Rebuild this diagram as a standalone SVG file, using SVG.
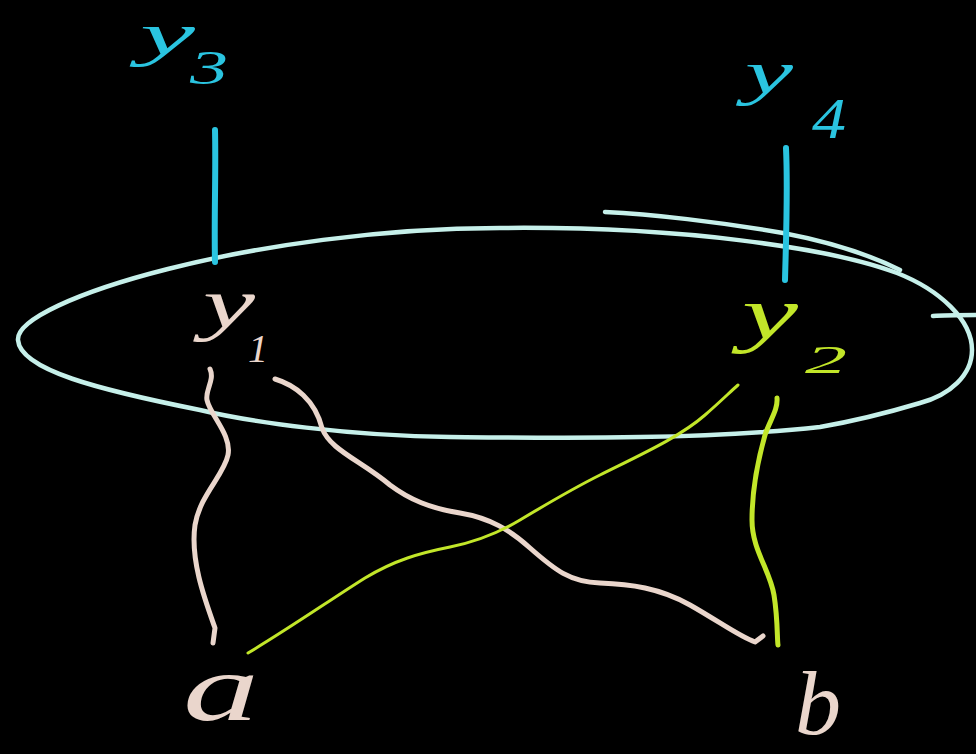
<svg xmlns="http://www.w3.org/2000/svg" width="976" height="754" viewBox="0 0 976 754">
<style>
.bg{fill:#000}
.lbl{font-family:"Liberation Serif","DejaVu Serif",serif;font-style:italic}
.cy{fill:#2ac4e0}
.pk{fill:#ead6cc}
.gr{fill:#c2e629}
.line{fill:none;stroke-linecap:round;stroke-linejoin:round}
.cyl{stroke:#2ac4e0;stroke-width:6}
.pkl{stroke:#ead6cc;stroke-width:5}
.grl{stroke:#c2e629}
.ell{fill:none;stroke:#c6f0ea;stroke-width:4.5;stroke-linecap:round}
</style>
<rect class="bg" x="0" y="0" width="976" height="754"/>

<g id="ellipse">
<path class="ell" d="M18,340 C15,300 260,228 500,228 C680,226 830,248 897,273 C940,290 972,320 972,350 C972,375 950,395 920,403 C890,412 860,420 820,427 C700,440 560,438 450,437 C350,436 250,422 200,410 C100,390 20,370 18,340 Z"/>
<path class="ell" d="M605,212 C650,214 720,222 783,233 C830,242 870,255 900,270"/>
<path class="ell" d="M933,316 C945,315 960,315 976,315"/>
</g>

<g id="connectors">
<path class="line cyl" d="M215,130 C216,170 214,220 215,262"/>
<path class="line cyl" d="M786,148 C788,190 786,240 785,280"/>
<path class="line pkl" d="M210,369 C215,380 205,390 207,400 C210,415 232,435 228,455 C224,475 200,495 195,525 C190,560 205,600 215,628 L213,643"/>
<path class="line pkl" d="M275,379 C295,385 315,400 322,428 C330,450 360,460 390,485 C410,500 430,508 460,513 C490,518 510,530 530,548 C555,570 570,582 600,583 C630,584 660,588 690,605 C720,622 740,637 755,642 L763,636"/>
<path class="line grl" stroke-width="3" d="M248,653 C290,628 330,600 365,578 C395,560 420,553 450,547 C480,541 500,532 520,520 C545,505 570,490 600,475 C640,455 680,437 705,415 C720,402 730,392 738,385"/>
<path class="line grl" stroke-width="5" d="M777,398 C778,410 770,420 765,435 C758,460 752,490 752,520 C752,550 770,570 774,595 C778,620 777,640 778,645"/>
</g>

<g id="y3">
<text class="lbl cy" x="140" y="54" font-size="60" textLength="55" lengthAdjust="spacingAndGlyphs">y</text>
<text class="lbl cy" x="190" y="84" font-size="48" textLength="38" lengthAdjust="spacingAndGlyphs">3</text>
</g>
<g id="y4">
<text class="lbl cy" x="745" y="93" font-size="62" textLength="48" lengthAdjust="spacingAndGlyphs">y</text>
<text class="lbl cy" x="812" y="138" font-size="56" textLength="34" lengthAdjust="spacingAndGlyphs">4</text>
</g>
<g id="y1">
<text class="lbl pk" x="203" y="327" font-size="70" textLength="52" lengthAdjust="spacingAndGlyphs">y</text>
<text class="lbl pk" x="248" y="362" font-size="40">1</text>
</g>
<g id="y2">
<text class="lbl gr" x="742" y="338" font-size="74" textLength="56" lengthAdjust="spacingAndGlyphs">y</text>
<text class="lbl gr" x="805" y="373" font-size="40" textLength="42" lengthAdjust="spacingAndGlyphs">2</text>
</g>
<g id="a">
<text class="lbl pk" x="183" y="720" font-size="96" textLength="76" lengthAdjust="spacingAndGlyphs">a</text>
</g>
<g id="b">
<text class="lbl pk" x="795" y="734" font-size="90" textLength="46" lengthAdjust="spacingAndGlyphs">b</text>
</g>
</svg>
